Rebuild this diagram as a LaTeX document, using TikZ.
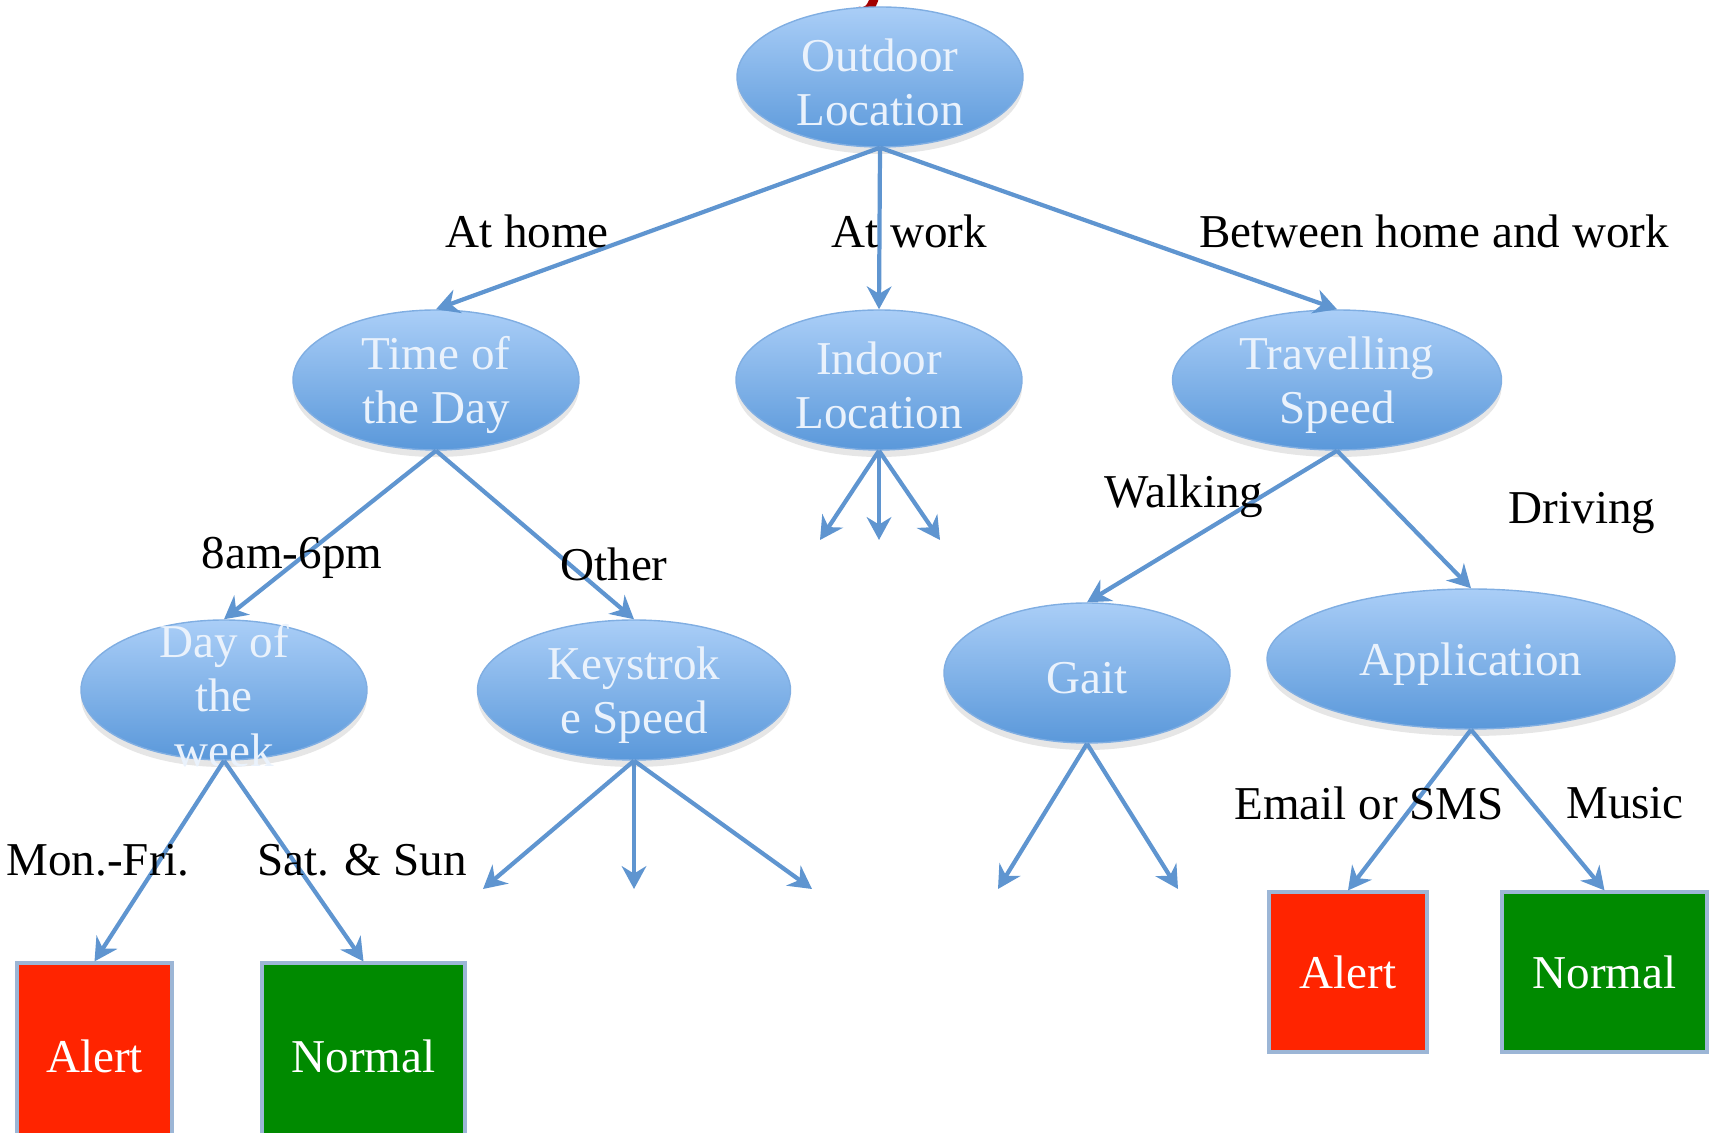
\documentclass[tikz,border=0pt]{standalone}
\usepackage{fontspec}
\setmainfont{Liberation Serif}
\usetikzlibrary{positioning,arrows.meta,shapes.geometric,shadows}

\definecolor{bubbletop}{HTML}{AACEF7}
\definecolor{bubblebot}{HTML}{5A98DA}
\definecolor{bubbleline}{HTML}{80AEE2}
\definecolor{bubbletext}{HTML}{EAF2FC}
\definecolor{linkblue}{HTML}{5F95D0}
\definecolor{alertred}{HTML}{FF2400}
\definecolor{normalgreen}{HTML}{008A00}
\definecolor{boxline}{HTML}{9CB6D6}
\definecolor{titlered}{HTML}{A30000}

\begin{document}
\begin{tikzpicture}[>={Stealth[length=6.5pt,width=7pt]},
  bubble/.style={ellipse,minimum width=2.86cm,minimum height=1.40cm,inner sep=0pt,
    top color=bubbletop,bottom color=bubblebot,draw=bubbleline,line width=0.4pt,
    drop shadow={opacity=0.2,shadow xshift=0pt,shadow yshift=-2pt},
    label={[caption]center:#1}},
  caption/.style={text=bubbletext,align=center,inner sep=0pt,yshift=-1.5pt,
    font=\fontsize{13.4}{15.5}\selectfont},
  verdict/.style={rectangle,draw=boxline,line width=0.9pt,text=white,inner sep=0pt,
    font=\fontsize{13.4}{14.8}\selectfont},
  link/.style={->,draw=linkblue,line width=1.2pt},
  cond/.style={inner sep=0pt,font=\fontsize{13.4}{14.8}\selectfont}]
  \useasboundingbox (0,0) rectangle (17.10,11.32); \clip (0,0) rectangle (17.10,11.32);
  % cut-off title above the root
  \draw[titlered,line width=2.5pt] (8.75,11.36) .. controls (8.71,11.22) and (8.66,11.19) .. (8.58,11.21);
  % decision nodes
  \node[bubble={Outdoor\\Location}] (outdoor) at (8.80,10.55) {};
  \node[bubble={Time of\\the Day}] (timeday) at (4.36,7.52) {};
  \node[bubble={Indoor\\Location}] (indoor) at (8.79,7.52) {};
  \node[bubble={Travelling\\Speed},minimum width=3.29cm] (travel) at (13.37,7.52) {};
  \node[bubble={Day of\\the\\week}] (dayweek) at (2.24,4.42) {};
  \node[bubble={Keystrok\\e Speed},minimum width=3.13cm] (keystroke) at (6.34,4.42) {};
  \node[bubble={Gait}] (gait) at (10.87,4.59) {};
  \node[bubble={Application},minimum width=4.08cm] (application) at (14.71,4.73) {};
  % outcomes
  \node[verdict,fill=alertred,minimum width=1.55cm,minimum height=1.86cm] (alertleft) at (0.945,0.76) {Alert};
  \node[verdict,fill=normalgreen,minimum width=2.03cm,minimum height=1.86cm] (normalleft) at (3.635,0.76) {Normal};
  \node[verdict,fill=alertred,minimum width=1.58cm,minimum height=1.60cm] (alertright) at (13.48,1.60) {Alert};
  \node[verdict,fill=normalgreen,minimum width=2.05cm,minimum height=1.60cm] (normalright) at (16.045,1.60) {Normal};
  % open ends
  \coordinate (indoorleft) at (8.20,5.92); \coordinate (indoormid) at (8.79,5.92); \coordinate (indoorright) at (9.40,5.92);
  \coordinate (keyleft) at (4.83,2.43); \coordinate (keymid) at (6.34,2.43); \coordinate (keyright) at (8.12,2.43);
  \coordinate (gaitleft) at (9.98,2.43); \coordinate (gaitright) at (11.78,2.43);
  % branches
  \draw[link] (outdoor.south) -- (timeday.north); \draw[link] (outdoor.south) -- (indoor.north);
  \draw[link] (outdoor.south) -- (travel.north);
  \draw[link] (timeday.south) -- (dayweek.north); \draw[link] (timeday.south) -- (keystroke.north);
  \draw[link] (indoor.south) -- (indoorleft); \draw[link] (indoor.south) -- (indoormid);
  \draw[link] (indoor.south) -- (indoorright);
  \draw[link] (travel.south) -- (gait.north); \draw[link] (travel.south) -- (application.north);
  \draw[link] (dayweek.south) -- (alertleft.north); \draw[link] (dayweek.south) -- (normalleft.north);
  \draw[link] (keystroke.south) -- (keyleft); \draw[link] (keystroke.south) -- (keymid);
  \draw[link] (keystroke.south) -- (keyright);
  \draw[link] (gait.south) -- (gaitleft); \draw[link] (gait.south) -- (gaitright);
  \draw[link] (application.south) -- (alertright.north); \draw[link] (application.south) -- (normalright.north);
  % branch labels
  \node[cond] (athome) at (5.27,9.01) {At home};
  \node[cond] (atwork) at (9.09,9.01) {At work};
  \node[cond] (between) at (14.34,9.01) {Between home and work};
  \node[cond] (officehours) at (2.92,5.74) {8am-6pm};
  \node[cond] (otherhours) at (6.14,5.68) {Other};
  \node[cond] (walking) at (11.84,6.36) {Walking};
  \node[cond] (driving) at (15.82,6.19) {Driving};
  \node[cond] (weekdays) at (0.98,2.72) {Mon.-Fri.};
  \node[cond] (weekend) at (3.62,2.72) {Sat. \& Sun};
  \node[cond] (messaging) at (13.69,3.29) {Email or SMS};
  \node[cond] (music) at (16.25,3.29) {Music};
\end{tikzpicture}
\end{document}
